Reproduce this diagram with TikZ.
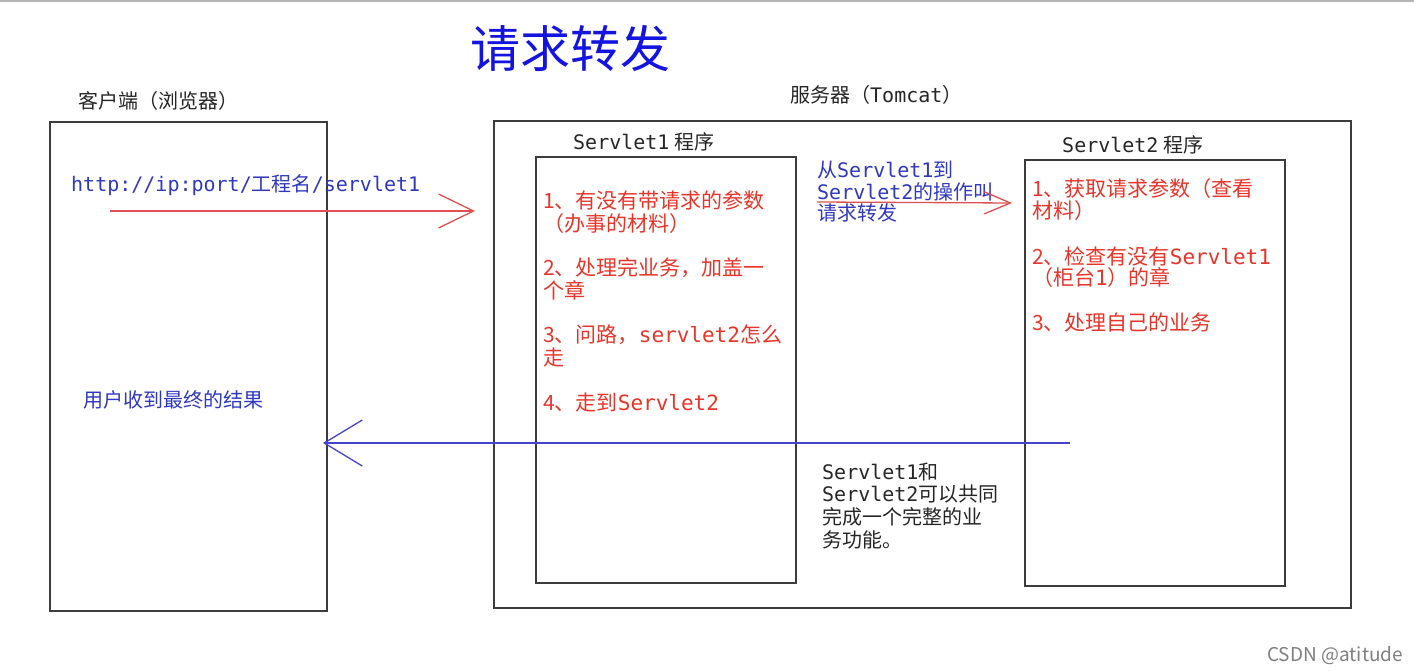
\documentclass[tikz,border=0pt]{standalone}
\usepackage{fontspec}
\setmainfont{Noto Sans CJK SC}
\newfontfamily\latfont{DejaVu Sans Mono}
\newcommand\lat[1]{{\latfont #1}}
\usetikzlibrary{arrows.meta}
\definecolor{boxgray}{HTML}{3C3C3C}
\definecolor{txtred}{HTML}{E8352A}
\definecolor{txtblue}{HTML}{3038C0}
\definecolor{titleblue}{HTML}{1414E0}
\definecolor{arrred}{HTML}{E05050}
\definecolor{arrblue}{HTML}{4444D0}
\tikzset{
  boxline/.style={draw=boxgray, line width=1.8},
  lbl/.style={inner sep=0, anchor=base west, font=\fontsize{20}{22.7}\selectfont},
  redtxt/.style={lbl, text=txtred, font=\fontsize{21}{22.7}\selectfont},
  bluetxt/.style={lbl, text=txtblue},
  blacktxt/.style={lbl, text=black!85},
  redarrow/.style={draw=arrred, line width=1.3},
  bluearrow/.style={draw=arrblue, line width=1.3}
}
\begin{document}
\begin{tikzpicture}[x=1pt,y=-1pt]
\useasboundingbox[fill=white] (0,0) rectangle (1414,671);
\draw[gray!60, line width=2] (0,1) -- (1414,1);
% title
\node[text=titleblue, font=\fontsize{50}{54}\selectfont, inner sep=0] (title) at (570,48) {请求转发};
% boxes
\draw[boxline, line width=1.5] (50,122) rectangle (327,611);
\draw[boxline, line width=1.5] (494,121) rectangle (1351,608);
\draw[boxline] (536,157) rectangle (796,583);
\draw[boxline] (1025,160) rectangle (1285,586);
% headings
\node[blacktxt] (clientlbl) at (78,109) {客户端（浏览器）};
\node[blacktxt] (serverlbl) at (790,103) {服务器（\lat{Tomcat}）};
\node[blacktxt] (s1lbl) at (573,150) {\lat{Servlet1} 程序};
\node[blacktxt] (s2lbl) at (1062,153) {\lat{Servlet2} 程序};
% client texts
\node[bluetxt] (url) at (71,192) {\lat{http://ip:port/}工程名\lat{/servlet1}};
\node[bluetxt] (result) at (83,407) {用户收到最终的结果};
% servlet1 steps
\node[redtxt] (s1steps) at (543,209) {\vtop{\hbox{1、有没有带请求的参数}\hbox{（办事的材料）}\vskip21pt
  \hbox{2、处理完业务，加盖一}\hbox{个章}\vskip22pt
  \hbox{3、问路，\lat{servlet2}怎么}\hbox{走}\vskip22pt
  \hbox{4、走到\lat{Servlet2}}}};
% middle
\node[bluetxt, font=\fontsize{20}{21.5}\selectfont] (fwdtxt) at (817,178) {\vtop{\hbox{从\lat{Servlet1}到}\hbox{\lat{Servlet2}的操作叫}\hbox{请求转发}}};
\node[blacktxt] (together) at (822,479) {\vtop{\hbox{\lat{Servlet1}和}\hbox{\lat{Servlet2}可以共同}\hbox{完成一个完整的业}\hbox{务功能。}}};
% servlet2 steps
\node[redtxt, font=\fontsize{21}{21.5}\selectfont] (s2steps) at (1032,197) {\vtop{\hbox{1、获取请求参数（查看}\hbox{材料）}\vskip24.5pt
  \hbox{2、检查有没有\lat{Servlet1}}\hbox{（柜台\lat{1}）的章}\vskip23.5pt
  \hbox{3、处理自己的业务}}};
% arrows
\coordinate (reqstart) at (110,211);
\coordinate (reqend) at (475,211);
\draw[redarrow, -{Straight Barb[length=35, width=34, line width=1.3]}] (reqstart) -- (reqend);
\coordinate (fwdstart) at (817,202);
\coordinate (fwdend) at (1012,203);
\draw[redarrow, -{Straight Barb[length=26, width=22, line width=1.3]}] (fwdstart) -- (fwdend);
\coordinate (respstart) at (1070,443);
\coordinate (respend) at (323,443);
\draw[bluearrow, -{Straight Barb[length=38, width=46, line width=1.3]}] (respstart) -- (respend);
% watermark
\node[inner sep=0, anchor=base west, text=black!50, font=\fontsize{19}{20}\selectfont] (wm) at (1267,661) {CSDN @atitude};
\end{tikzpicture}
\end{document}
